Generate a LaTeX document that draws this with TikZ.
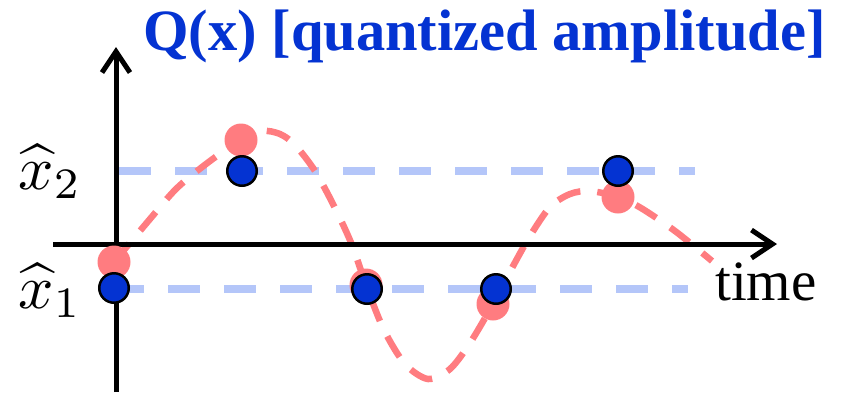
\documentclass[tikz,border=0pt]{standalone}
\usepackage{fontspec}
\newfontfamily\timesfont{Liberation Serif}
\usetikzlibrary{arrows.meta}
\definecolor{qblue}{HTML}{0433D2}
\definecolor{qred}{HTML}{FF7C80}
\definecolor{qlight}{HTML}{B4C6F9}
\tikzset{
  axisline/.style={line width=5pt, -{Straight Barb[length=21pt,width=28pt]}},
  levelline/.style={qlight, line width=8pt, dash pattern=on 32pt off 24pt},
  signal/.style={qred, line width=6.5pt, dash pattern=on 24pt off 17pt},
  rdot/.style={circle, fill=qred, minimum size=33pt, inner sep=0pt},
  bdot/.style={circle, fill=qblue, draw=black, line width=2.5pt, minimum size=29.5pt, inner sep=0pt},
  lbl/.style={scale=6.2, inner sep=0pt, anchor=base},
}
\begin{document}
\begin{tikzpicture}[x=1pt,y=-1pt]
\useasboundingbox (0,0) rectangle (841,392);
% title
\node[anchor=base west, inner sep=0pt, text=qblue, font=\timesfont\bfseries\fontsize{58.5}{60}\selectfont] (title) at (143,50) {Q(x) [quantized amplitude]};
% level lines
\coordinate (l2a) at (119,171);
\coordinate (l2b) at (695,171);
\coordinate (l1a) at (112,289);
\coordinate (l1b) at (688,289);
\draw[levelline] (l2a) -- (l2b);
\draw[levelline] (l1a) -- (l1b);
% signal
\draw[signal] plot[smooth, tension=0.5] coordinates {(114,262) (150,219) (177,188) (210,161) (241,140) (262,131) (280,134) (295,145) (315,171) (335,208) (352,245) (366,285) (384,330) (405,364) (428,379) (450,369) (470,343) (493,304) (512,268) (530,236) (550,207) (570,194) (590,191) (618,197) (641,208) (675,231) (712,261)};
% axes
\coordinate (yb) at (116,392);
\coordinate (yt) at (116,47);
\coordinate (xl) at (53,244);
\coordinate (xr) at (777,244);
\draw[axisline] (yb) -- (yt);
\draw[axisline] (xl) -- (xr);
% labels
\node[lbl] (x2) at (50,189) {$\widehat{x}_2$};
\node[lbl] (x1) at (50,308) {$\widehat{x}_1$};
\node[anchor=base west, inner sep=0pt, font=\timesfont\fontsize{57}{60}\selectfont] (time) at (715,300) {time};
% samples
\node[rdot] (r1) at (114,262) {};
\node[rdot] (r2) at (241,140) {};
\node[rdot] (r3) at (366,285) {};
\node[rdot] (r4) at (493,304) {};
\node[rdot] (r5) at (618,197) {};
\node[bdot] (b1) at (114,288) {};
\node[bdot] (b2) at (242,171) {};
\node[bdot] (b3) at (367,289) {};
\node[bdot] (b4) at (496,289) {};
\node[bdot] (b5) at (618,171) {};
\end{tikzpicture}
\end{document}
